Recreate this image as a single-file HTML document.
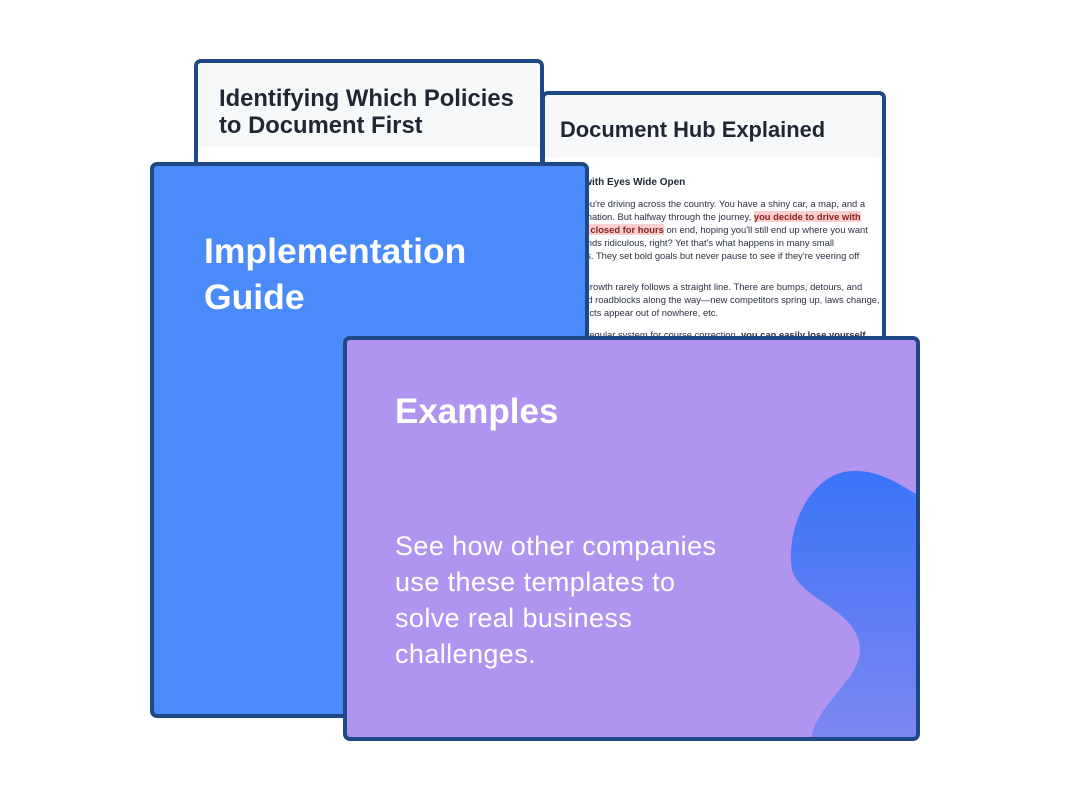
<!DOCTYPE html>
<html><head><style>
*{margin:0;padding:0;box-sizing:border-box}
body{width:1070px;height:800px;background:#fff;position:relative;overflow:hidden;font-family:"Liberation Sans",sans-serif}
.card{position:absolute;border:4px solid #1e4886;border-radius:7px;overflow:hidden}
.hd{background:#f7f8fa;color:#1f2733;font-weight:bold}
.t{position:absolute;font-size:9.4px;color:#2a3140;white-space:nowrap;left:-1px}
.hl{background:#f8cfcc;color:#8a1e1e;font-weight:bold}
</style></head><body>

<div class="card" style="left:194px;top:59px;width:350px;height:130px;background:#fff">
  <div class="hd" style="height:84px;padding:22px 0 0 21px;font-size:23.8px;line-height:27px">Identifying Which Policies<br>to Document First</div>
</div>

<div class="card" style="left:541px;top:91px;width:345px;height:270px;background:#fff">
  <div class="hd" style="height:62px;padding:22px 0 0 15px;font-size:21.9px">Document Hub Explained</div>
  <div class="t" style="top:82px;font-size:10px;font-weight:bold;color:#1f2733;left:2px">Driving with Eyes Wide Open</div>
  <div class="t" style="top:103px">Imagine you're driving across the country. You have a shiny car, a map, and a</div>
  <div class="t" style="top:116px">clear destination. But halfway through the journey, <span class="hl">you decide to drive with</span></div>
  <div class="t" style="top:129px"><span class="hl">your eyes closed for hours</span> on end, hoping you'll still end up where you want</div>
  <div class="t" style="top:142px">to go. Sounds ridiculous, right? Yet that's what happens in many small</div>
  <div class="t" style="top:155px">businesses. They set bold goals but never pause to see if they're veering off</div>
  <div class="t" style="top:186px">Business growth rarely follows a straight line. There are bumps, detours, and</div>
  <div class="t" style="top:199px">unexpected roadblocks along the way—new competitors spring up, laws change,</div>
  <div class="t" style="top:212px">team conflicts appear out of nowhere, etc.</div>
  <div class="t" style="top:234px">Without a regular system for course correction, <b>you can easily lose yourself</b></div>
</div>

<div class="card" style="left:150px;top:162px;width:439px;height:556px;background:#4a8af9">
  <div style="position:absolute;left:50px;top:62px;color:#fff;font-weight:bold;font-size:35.5px;line-height:46px">Implementation<br>Guide</div>
</div>

<div class="card" style="left:343px;top:336px;width:577px;height:405px;background:#b194f0">
  <svg style="position:absolute;left:0;top:0" width="573" height="401">
    <defs><linearGradient id="g" x1="0" y1="0" x2="0" y2="1"><stop offset="0" stop-color="#3b74f8"/><stop offset="1" stop-color="#7d86f1"/></linearGradient></defs>
    <path transform="translate(-347,-340)" d="M853,471 C880,470 900,485 916,494 L916,740 L811,740 C815,705 860,680 860,650 C860,610 800,600 792,570 C785,530 810,472 853,471 Z" fill="url(#g)"/>
  </svg>
  <div style="position:absolute;left:48px;top:52px;color:#fff;font-weight:bold;font-size:35px">Examples</div>
  <div style="position:absolute;left:48px;top:188px;color:#fff;font-size:27px;letter-spacing:0.4px;line-height:36px">See how other companies<br>use these templates to<br>solve real business<br>challenges.</div>
</div>
</body></html>
